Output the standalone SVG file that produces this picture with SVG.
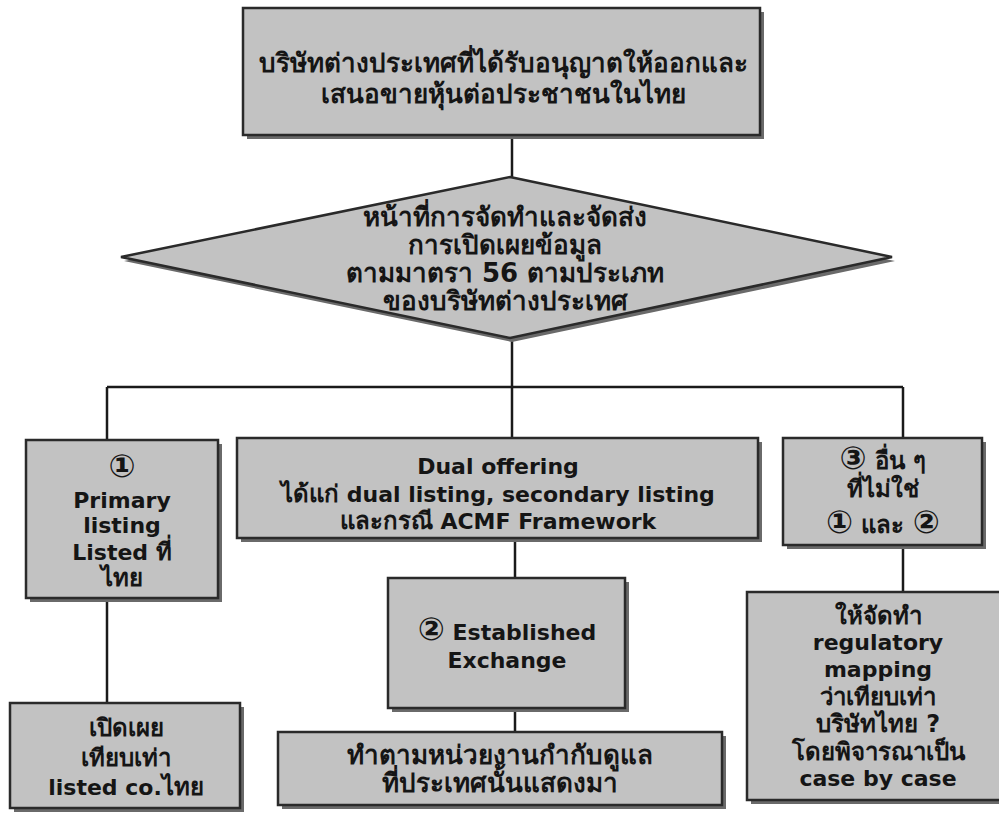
<svg xmlns="http://www.w3.org/2000/svg" width="999" height="813" viewBox="0 0 999 813">
<style>
.box{fill:#c2c2c2;stroke:#2a2a2a;stroke-width:2.5}
.sh{fill:#6a6a6a}
.t{font-family:"DejaVu Sans","Noto Sans",sans-serif;font-weight:bold;font-size:22px;fill:#151515;text-anchor:middle}
.th{font-size:26px}
.m{font-size:24px}
.c{font-family:"DejaVu Sans",sans-serif;font-weight:bold;font-size:32px}
.ln{stroke:#1a1a1a;stroke-width:2.5;fill:none}
</style>
<rect width="999" height="813" fill="#ffffff"/>
<g id="connectors">
<path class="ln" d="M512 135V177"/>
<path class="ln" d="M512 338V438"/>
<path class="ln" d="M107 387H903"/>
<path class="ln" d="M107 387V440"/>
<path class="ln" d="M903 387V438"/>
<path class="ln" d="M107 598V703"/>
<path class="ln" d="M515 538V578"/>
<path class="ln" d="M515 708V732"/>
<path class="ln" d="M903 545V592"/>
</g>
<g id="top">
<rect class="sh" x="247" y="12" width="517" height="127"/>
<rect class="box" x="243" y="8" width="517" height="127"/>
<text class="t th" x="503" y="72">บริษัทต่างประเทศที่ได้รับอนุญาตให้ออกและ</text>
<text class="t th" x="503" y="103">เสนอขายหุ้นต่อประชาชนในไทย</text>
</g>
<g id="decision">
<polygon class="sh" points="512,181 895,261 512,342 124,261"/>
<polygon class="box" points="510,177 892,257 510,338 121,257"/>
<text class="t th" x="505" y="226">หน้าที่การจัดทำและจัดส่ง</text>
<text class="t th" x="505" y="254">การเปิดเผยข้อมูล</text>
<text class="t th" x="505" y="282">ตามมาตรา 56 ตามประเภท</text>
<text class="t th" x="505" y="310">ของบริษัทต่างประเทศ</text>
</g>
<g id="primary">
<rect class="sh" x="30" y="444" width="192" height="158"/>
<rect class="box" x="26" y="440" width="192" height="158"/>
<text class="t c" x="122" y="477">①</text>
<text class="t" x="122" y="508">Primary</text>
<text class="t" x="122" y="533">listing</text>
<text class="t" x="122" y="560">Listed <tspan class="m">ที่</tspan></text>
<text class="t m" x="122" y="586">ไทย</text>
</g>
<g id="dual">
<rect class="sh" x="241" y="442" width="521" height="100"/>
<rect class="box" x="237" y="438" width="521" height="100"/>
<text class="t" x="498" y="474">Dual offering</text>
<text class="t" x="498" y="502"><tspan class="m">ได้แก่</tspan>  dual listing, secondary listing</text>
<text class="t" x="498" y="529"><tspan class="m">และกรณี</tspan> ACMF Framework</text>
</g>
<g id="other">
<rect class="sh" x="787" y="442" width="199" height="107"/>
<rect class="box" x="783" y="438" width="199" height="107"/>
<text class="t m" x="883" y="469"><tspan class="c">③</tspan> อื่น ๆ</text>
<text class="t m" x="883" y="497">ที่ไม่ใช่</text>
<text class="t m" x="883" y="533"><tspan class="c">①</tspan> และ <tspan class="c">②</tspan></text>
</g>
<g id="established">
<rect class="sh" x="392" y="582" width="237" height="130"/>
<rect class="box" x="388" y="578" width="237" height="130"/>
<text class="t" x="507" y="640"><tspan class="c">②</tspan> Established</text>
<text class="t" x="507" y="668">Exchange</text>
</g>
<g id="disclose">
<rect class="sh" x="14" y="707" width="230" height="105"/>
<rect class="box" x="10" y="703" width="230" height="105"/>
<text class="t m" x="126" y="736">เปิดเผย</text>
<text class="t m" x="126" y="766">เทียบเท่า</text>
<text class="t" x="126" y="795">listed co.<tspan class="m">ไทย</tspan></text>
</g>
<g id="follow">
<rect class="sh" x="282" y="736" width="444" height="73"/>
<rect class="box" x="278" y="732" width="444" height="73"/>
<text class="t th" x="500" y="764">ทำตามหน่วยงานกำกับดูแล</text>
<text class="t th" x="500" y="792">ที่ประเทศนั้นแสดงมา</text>
</g>
<g id="mapping">
<rect class="sh" x="751" y="596" width="260" height="208"/>
<rect class="box" x="747" y="592" width="260" height="208"/>
<text class="t m" x="878" y="624">ให้จัดทำ</text>
<text class="t" x="878" y="650">regulatory</text>
<text class="t" x="878" y="677">mapping</text>
<text class="t m" x="878" y="705">ว่าเทียบเท่า</text>
<text class="t m" x="878" y="732">บริษัทไทย ?</text>
<text class="t m" x="878" y="760">โดยพิจารณาเป็น</text>
<text class="t" x="878" y="786">case by case</text>
</g>
</svg>
